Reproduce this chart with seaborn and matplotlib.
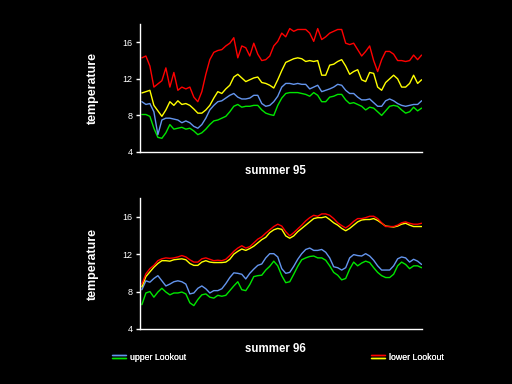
import matplotlib
matplotlib.use("Agg")
import matplotlib.pyplot as plt
import seaborn as sns
import numpy as np
import pandas as pd
from matplotlib.lines import Line2D
from matplotlib.legend_handler import HandlerBase

nan = np.nan

# day index along the summer, one value every sample
days = list(range(71))

# summer 95
top_red = [14.3, 14.5, 13.4, 11.1, nan, 11.8, 13.2, 11.1, 12.7, 10.75, 11.1, 10.9,
           11.1, 10.0, 9.5, 10.6, 12.5, 14.1, 14.9, 15.1, 15.2, 15.6, 15.9, 16.5,
           14.3, 15.6, 15.4, 14.5, 15.9, 14.7, 14.0, 14.1, 14.5, 15.6, 16.1, 17.0,
           16.6, 17.5, 17.2, 17.4, 17.4, 17.4, 17.0, 16.1, 17.5, 16.3, 16.6,
           17.0, 17.2, 17.4, 17.4, 15.9, 15.75, 15.9, 15.2, 14.5, 15.0, 15.6, 14.0,
           12.8, 14.1, 15.0, 15.0, 14.7, 14.0, 14.0, 13.9, 14.0, 14.6, 14.1, 14.6]
top_yellow = [10.46, 10.6, 10.75, 9.1, nan, 7.9, 8.6, 9.5, 9.1, 9.6, 9.2, 9.3,
              9.1, 8.7, 8.25, 8.25, 8.6, 9.1, 9.9, 10.6, 10.4, 10.9, 11.3, 12.2,
              12.5, 12.1, 11.7, 11.9, 12.1, 12.2, 11.6, 11.5, 11.3, 11.0, 11.9, 12.9,
              13.8, 14.0, 14.2, 14.3, 14.2, 13.9, 14.0, 13.9, 14.0, 12.4, 12.4,
              13.5, 13.6, 13.9, 14.1, 13.4, 12.5, 12.8, 13.0, 11.9, 11.7, 12.7, 12.6,
              11.1, 10.75, 11.6, 12.0, 12.4, 12.0, 11.1, 11.1, 11.5, 12.4, 11.5, 11.9]
top_blue = [9.5, 9.2, 9.3, 8.4, 5.9, 7.5, 7.7, 7.7, 7.6, 7.5, 7.2, 7.4,
            7.2, 6.8, 6.6, 7.0, 7.7, 8.6, 9.1, 9.5, 9.6, 9.9, 10.2, 10.4,
            10.0, 9.8, 9.8, 9.9, 10.2, 10.2, 9.3, 9.0, 9.1, 9.5, 10.1, 11.1,
            11.5, 11.5, 11.4, 11.5, 11.4, 11.4, 10.9, 11.1, 11.3, 10.6, 10.75,
            10.9, 11.1, 11.4, 11.3, 10.75, 10.4, 10.4, 10.0, 9.7, 9.7, 9.8, 9.4,
            9.0, 9.0, 9.6, 9.8, 9.6, 9.3, 9.1, 9.0, 9.1, 9.2, 9.2, 9.6]
top_green = [8.1, 8.1, 7.9, 6.6, 5.6, 5.5, 6.1, 7.0, 6.5, 6.6, 6.7, 6.5,
             6.6, 6.3, 5.9, 6.1, 6.5, 7.0, 7.4, 7.5, 7.7, 7.9, 8.4, 9.0,
             9.2, 8.9, 9.0, 9.0, 9.1, 9.1, 8.6, 8.25, 8.1, 8.0, 9.1, 9.9,
             10.4, 10.5, 10.5, 10.5, 10.4, 10.3, 10.1, 10.5, 10.2, 9.5, 9.5,
             10.0, 10.1, 10.3, 10.3, 9.7, 9.3, 9.4, 9.2, 9.0, 8.6, 8.9, 8.8,
             8.4, 8.0, 8.5, 9.0, 9.1, 9.0, 8.6, 8.25, 8.4, 8.9, 8.5, 8.8]

# summer 96
bot_red = [8.8, 9.9, 10.45, 10.8, 11.3, 11.5, 11.6, 11.55, 11.6, 11.7, 11.85, 11.7,
           11.4, 11.15, 11.15, 11.5, 11.6, 11.45, 11.3, 11.35, 11.3, 11.45, 11.85, 12.3,
           12.65, 12.9, 12.65, 12.8, 13.2, 13.6, 13.85, 14.25, 14.6, 14.95, 15.2, 15.0,
           14.4, 13.95, 14.3, 14.7, 15.1, 15.55, 15.9, 16.15, 16.05, 16.3, 16.3,
           16.15, 15.8, 15.35, 15.05, 14.8, 15.1, 15.5, 15.8, 15.8, 15.9, 16.05, 16.05,
           15.8, 15.35, 14.95, 14.95, 14.95, 15.1, 15.35, 15.45, 15.3, 15.2, 15.2, 15.3]
bot_yellow = [8.5, 9.6, 10.1, 10.6, 11.0, 11.3, 11.3, 11.25, 11.4, 11.45, 11.5, 11.4,
              11.0, 10.8, 10.8, 11.15, 11.3, 11.15, 11.1, 11.1, 11.1, 11.15, 11.45, 12.0,
              12.3, 12.55, 12.4, 12.6, 12.85, 13.2, 13.55, 13.8, 14.3, 14.6, 14.75, 14.65,
              13.95, 13.7, 13.95, 14.4, 14.75, 15.1, 15.45, 15.8, 15.9, 15.9, 16.0,
              15.7, 15.35, 15.1, 14.75, 14.5, 14.75, 15.1, 15.45, 15.65, 15.7, 15.7, 15.8,
              15.6, 15.3, 15.0, 14.95, 14.9, 15.0, 15.2, 15.3, 15.1, 14.95, 14.95, 14.95]
bot_blue = [8.2, 9.15, 9.0, 9.4, 9.7, 9.15, 8.6, 8.8, 9.05, 9.15, 9.05, 8.8,
            7.75, 7.85, 8.35, 8.6, 8.3, 7.85, 8.1, 8.1, 8.3, 8.85, 9.5, 10.0,
            9.95, 9.85, 9.35, 9.95, 10.4, 10.8, 10.95, 11.6, 12.05, 12.05, 11.7, 10.45,
            9.95, 10.05, 10.7, 11.45, 12.05, 12.5, 12.65, 12.4, 12.4, 12.5, 12.2,
            11.6, 10.65, 10.55, 10.3, 10.55, 11.6, 11.95, 11.85, 11.8, 12.05, 11.8, 11.35,
            10.75, 10.3, 10.3, 10.3, 10.75, 11.5, 11.7, 11.6, 11.15, 11.45, 11.25, 10.9]
bot_green = [6.6, 7.85, 8.0, 7.4, 7.95, 8.35, 7.95, 7.65, 7.85, 7.85, 7.95, 7.75,
             6.8, 6.5, 7.15, 7.65, 7.75, 7.4, 7.3, 7.6, 7.5, 7.6, 8.1, 8.6,
             9.05, 8.2, 8.1, 8.75, 9.6, 9.7, 9.75, 10.3, 10.7, 11.25, 10.75, 9.7,
             8.95, 9.05, 9.85, 10.7, 11.4, 11.6, 11.75, 11.8, 11.6, 11.6, 11.35,
             10.75, 10.05, 9.75, 9.25, 9.4, 10.4, 11.15, 10.75, 11.05, 11.25, 11.1, 10.55,
             10.05, 9.7, 9.5, 9.5, 9.85, 10.75, 11.15, 10.9, 10.45, 10.75, 10.75, 10.55]

series_names = ["green", "blue", "yellow", "red"]
colors = {"green": "#00e600", "blue": "#6495ed", "yellow": "#ffff00", "red": "#ff0000"}
yticks = [4, 8, 12, 16]

sns.set_theme(style="ticks")
plt.rcParams.update({
    "figure.facecolor": "black",
    "axes.facecolor": "black",
    "savefig.facecolor": "black",
    "text.color": "white",
    "font.family": ["Liberation Sans", "DejaVu Sans"],
})


def make_frame(red, yellow, blue, green):
    vals = {"red": red, "yellow": yellow, "blue": blue, "green": green}
    rows = []
    for name in series_names:
        for d, v in zip(days, vals[name]):
            rows.append([d, v, name])
    return pd.DataFrame(rows, columns=["day", "temp", "site"])


def draw_panel(ax, df, xlabel, label_y):
    sns.lineplot(data=df, x="day", y="temp", hue="site", palette=colors,
                 hue_order=series_names, linewidth=1.0, legend=False, ax=ax)
    ax.set_xlim(-0.6, 70.1)
    ax.set_ylim(4, 18)
    ax.set_yticks(yticks)
    ax.set_xticks([])
    for s in ["top", "right"]:
        ax.spines[s].set_visible(False)
    for s in ["left", "bottom"]:
        ax.spines[s].set_color("white")
        ax.spines[s].set_linewidth(1.0)
    ax.tick_params(axis="y", colors="white", labelsize=6.5, length=3, width=1, pad=2)
    ax.set_ylabel("temperature", color="white", fontsize=9, fontweight="bold")
    ax.yaxis.set_label_coords(-0.145, 0.5)
    ax.set_xlabel(xlabel, color="white", fontsize=8.3, fontweight="bold")
    ax.xaxis.set_label_coords(0.48, label_y)
    ax.grid(False)


fig = plt.figure(figsize=(5.12, 3.84), dpi=100)
ax1 = fig.add_axes([139.5 / 512, 1 - 152 / 384, 282.5 / 512, 128 / 384])
ax2 = fig.add_axes([139.5 / 512, 1 - 329 / 384, 282.5 / 512, 131 / 384])

draw_panel(ax1, make_frame(top_red, top_yellow, top_blue, top_green), "summer 95", -0.1)
draw_panel(ax2, make_frame(bot_red, bot_yellow, bot_blue, bot_green), "summer 96", -0.105)


class TwoLines(HandlerBase):
    # legend swatch made of two stacked lines
    def create_artists(self, legend, orig_handle, xdescent, ydescent,
                       width, height, fontsize, trans):
        c1, c2 = orig_handle
        l1 = Line2D([-xdescent, width - xdescent], [0.75 * height] * 2,
                    color=colors[c1], lw=1, transform=trans)
        l2 = Line2D([-xdescent, width - xdescent], [0.2 * height] * 2,
                    color=colors[c2], lw=1, transform=trans)
        return [l1, l2]


for pair, label, x0 in [(("blue", "green"), "upper Lookout", 112 / 512),
                        (("red", "yellow"), "lower Lookout", 371 / 512)]:
    leg = fig.legend([pair], [label], handler_map={tuple: TwoLines()},
                     loc="center left", bbox_to_anchor=(x0, 1 - 357 / 384),
                     frameon=False, fontsize=6.3, handlelength=1.6,
                     handletextpad=0.45, borderpad=0, borderaxespad=0)
    for t in leg.get_texts():
        t.set_color("white")
    fig.add_artist(leg)

fig.savefig("out.png", dpi=100, facecolor="black")
